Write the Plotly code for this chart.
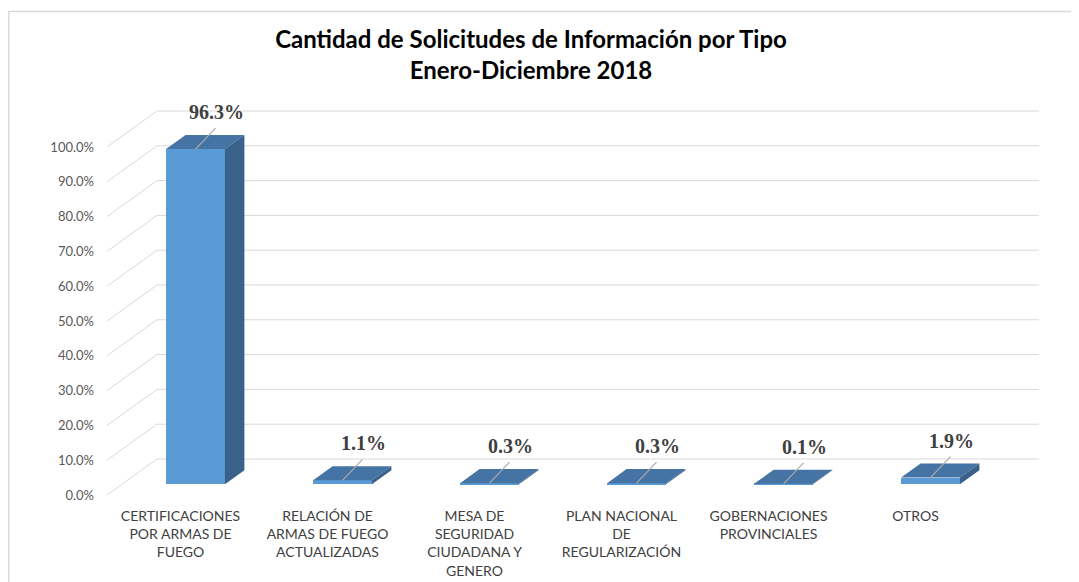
import numpy as np
import plotly.graph_objects as go

# ---- data ----
categories = [
    "CERTIFICACIONES<br>POR ARMAS DE<br>FUEGO",
    "RELACIÓN DE<br>ARMAS DE FUEGO<br>ACTUALIZADAS",
    "MESA DE<br>SEGURIDAD<br>CIUDADANA Y<br>GENERO",
    "PLAN NACIONAL<br>DE<br>REGULARIZACIÓN",
    "GOBERNACIONES<br>PROVINCIALES",
    "OTROS",
]
values = [0.963, 0.011, 0.003, 0.003, 0.001, 0.019]
tick_values = [0.0, 0.1, 0.2, 0.3, 0.4, 0.5, 0.6, 0.7, 0.8, 0.9, 1.0]
title_lines = ["Cantidad de Solicitudes de Información por Tipo", "Enero-Diciembre 2018"]

# ---- geometry (pixel scale of the oblique 3-D look) ----
OFF = 8              # page body margin
W, H = 1079 - OFF, 582 - OFF
ML, MR, MT = 107 - OFF, 0, 100 - OFF
bottom_px = 500 - OFF
MB = H - bottom_px
XPX = 147.0          # px per category
YPX = 348.0          # px per 100 %
ZERO_PX = 495.0 - OFF  # pixel row of 0 % on the front plane
DX = 50.0 / XPX      # depth offset (back wall) in x units
DY = 36.0 / YPX      # depth offset (back wall) in y units
D0, D1 = 0.30, 0.69  # bar front/back depth fraction
HALF = 0.2           # half bar width (categories)

plot_w = W - ML - MR
plot_h = H - MT - MB
x_range = [-0.5, -0.5 + plot_w / XPX]
y_range = [-(bottom_px - ZERO_PX) / YPX, (ZERO_PX - MT) / YPX]

FRONT = "#5B9BD5"
TOP = "#4573A3"
SIDE = "#3A6189"
GRID = "#D9D9D9"

x = np.arange(len(values), dtype=float)
v = np.array(values)

fig = go.Figure()

# gridlines on back wall + diagonals on the side wall
shapes = []
xl, xr = -0.5, len(values) - 0.5
for t in tick_values:
    shapes.append(dict(type="line", xref="x", yref="y", x0=xl, y0=t, x1=xl + DX, y1=t + DY,
                       line=dict(color=GRID, width=1), layer="below"))
    shapes.append(dict(type="line", xref="x", yref="y", x0=xl + DX, y0=t + DY, x1=xr + DX, y1=t + DY,
                       line=dict(color=GRID, width=1), layer="below"))

# outer chart border
def px_to_paper_x(px):
    return (px - ML) / plot_w

def px_to_paper_y(py):
    return (bottom_px - py) / plot_h

shapes.append(dict(type="rect", xref="paper", yref="paper",
                   x0=px_to_paper_x(0.75), y0=px_to_paper_y(3.5),
                   x1=px_to_paper_x(W + 20), y1=px_to_paper_y(H + 20),
                   line=dict(color=GRID, width=1.5), fillcolor="rgba(0,0,0,0)", layer="below"))

# front faces as bars
fig.add_trace(go.Bar(
    x=x + DX * D0, y=v, base=DY * D0, width=2 * HALF,
    marker=dict(color=FRONT, line=dict(width=0)), hoverinfo="skip", showlegend=False,
))

# top faces
tx, ty = [], []
for c, val in zip(x, v):
    tx += [c - HALF + DX * D0, c + HALF + DX * D0, c + HALF + DX * D1, c - HALF + DX * D1, c - HALF + DX * D0, None]
    ty += [val + DY * D0, val + DY * D0, val + DY * D1, val + DY * D1, val + DY * D0, None]
fig.add_trace(go.Scatter(x=tx, y=ty, fill="toself", fillcolor=TOP, mode="lines",
                         line=dict(width=0, color=TOP), hoverinfo="skip", showlegend=False))

# side faces
sx, sy = [], []
for c, val in zip(x, v):
    xa = c + HALF + DX * D0
    xb = c + HALF + DX * D1
    sx += [xa, xa, xb, xb, xa, None]
    sy += [DY * D0, val + DY * D0, val + DY * D1, DY * D1, DY * D0, None]
fig.add_trace(go.Scatter(x=sx, y=sy, fill="toself", fillcolor=SIDE, mode="lines",
                         line=dict(width=0, color=SIDE), hoverinfo="skip", showlegend=False))

# leader lines and data labels
LX, LY = 20.0 / XPX, 21.0 / YPX
TXX, TXY = 21.0 / XPX, 35.0 / YPX
lx, ly = [], []
for c, val in zip(x, v):
    x0 = c + DX * D0
    y0 = val + DY * D0
    lx += [x0, x0 + LX, None]
    ly += [y0, y0 + LY, None]
fig.add_trace(go.Scatter(x=lx, y=ly, mode="lines", line=dict(color="#ABABAB", width=1.2),
                         hoverinfo="skip", showlegend=False))
fig.add_trace(go.Scatter(
    x=x + DX * D0 + TXX, y=v + DY * D0 + TXY, mode="text",
    text=[f"<b>{val * 100:.1f}%</b>" for val in v],
    textfont=dict(family="Liberation Serif", size=20, color="#404040"),
    textposition="middle center", hoverinfo="skip", showlegend=False, cliponaxis=False,
))

fig.update_layout(
    width=W, height=H, autosize=False,
    margin=dict(l=ML, r=MR, t=MT, b=MB, autoexpand=False),
    paper_bgcolor="white", plot_bgcolor="white",
    shapes=shapes,
    bargap=0,
    title=dict(text="<br>".join(title_lines), x=(531 - OFF) / W, xref="container", xanchor="center",
               y=1 - 40 / H, yref="container", yanchor="middle", automargin=False,
               font=dict(family="Lato", size=24, color="#000000", weight="bold")),
    xaxis=dict(range=x_range, tickvals=list(x), ticktext=categories, showgrid=False, zeroline=False,
               showline=False, ticks="", ticklabelstandoff=6, automargin=False,
               tickfont=dict(family="Lato", size=14, color="#404040"),
               fixedrange=True),
    yaxis=dict(range=y_range, tickvals=tick_values, tickformat=".1%", showgrid=False, zeroline=False,
               showline=False, ticks="", ticklabelstandoff=12, automargin=False,
               tickfont=dict(family="Lato", size=13, color="#595959"), fixedrange=True),
)

fig.write_html("out.html")
